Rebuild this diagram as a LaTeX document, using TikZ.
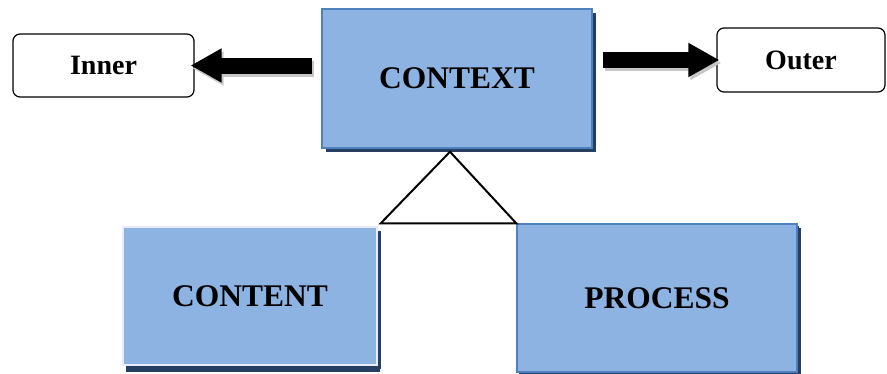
\documentclass[tikz,border=0pt]{standalone}
\usepackage{fontspec}
\setmainfont{Liberation Serif}
\usetikzlibrary{arrows.meta,positioning,shadows}
\definecolor{boxblue}{HTML}{8DB3E2}
\definecolor{edgeblue}{HTML}{4F81BD}
\definecolor{shadeblue}{HTML}{263F63}

\begin{document}
\begin{tikzpicture}[x=1pt,y=-1pt,
    bluebox/.style={fill=boxblue,draw=edgeblue,line width=1.5pt,
        font=\fontsize{31.5}{33}\selectfont\bfseries,
        drop shadow={shadow xshift=4pt,shadow yshift=-4pt,fill=shadeblue,opacity=1}},
    sidebox/.style={draw,fill=white,rounded corners=7pt,line width=1.2pt,
        font=\fontsize{28}{30}\selectfont\bfseries},
    fatarrow/.style={line width=16pt,-{Triangle[length=31pt,width=32pt]}},
    arrowshade/.style={black!22,transform canvas={shift={(2pt,-3pt)}}}]
        \useasboundingbox (0,0) rectangle (887,373);

        \node[bluebox,minimum width=270,minimum height=139] (context) at (457,78.5) {CONTEXT};
        \node[bluebox,draw=blue!8,minimum width=254,minimum height=138,
              drop shadow={shadow xshift=3pt,shadow yshift=-7pt,fill=shadeblue,opacity=1}] (content) at (250,296) {CONTENT};
        \node[bluebox,minimum width=280,minimum height=148,
              drop shadow={shadow xshift=2pt,shadow yshift=-2pt,fill=shadeblue,opacity=1}] (process) at (657,298) {PROCESS};

        \node[sidebox,minimum width=181,minimum height=63] (inner) at (103.5,65.5) {Inner};
        \node[sidebox,minimum width=168,minimum height=64] (outer) at (801,60) {Outer};

        % block arrows
        \draw[fatarrow,arrowshade,shorten <=9pt,shorten >=-4pt] (context.west |- inner.east) -- (inner.east);
        \draw[fatarrow,shorten <=9pt,shorten >=-4pt] (context.west |- inner.east) -- (inner.east);
        \draw[fatarrow,arrowshade,shorten <=6pt,shorten >=-3pt] ([xshift=4pt]context.east |- outer.west) -- (outer.west);
        \draw[fatarrow,shorten <=6pt,shorten >=-3pt] ([xshift=4pt]context.east |- outer.west) -- (outer.west);

        % triangle
        \coordinate (apex) at ([xshift=-7pt,yshift=-3pt]context.south);
        \draw[line width=2pt,line join=miter] ([xshift=3pt]content.north east |- process.north west) -- (apex) -- (process.north west) -- cycle;
\end{tikzpicture}
\end{document}
